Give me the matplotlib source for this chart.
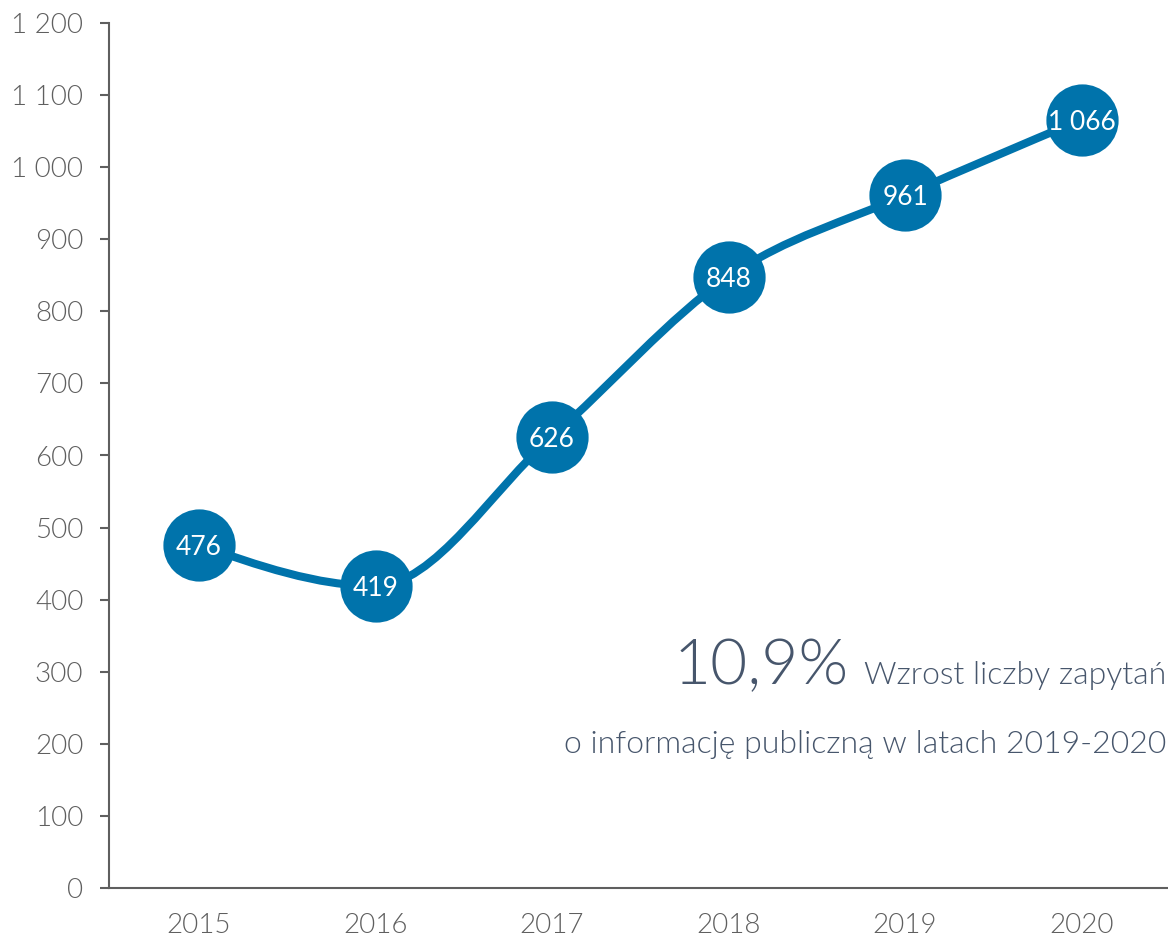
import numpy as np
import matplotlib
matplotlib.use('Agg')
import matplotlib.pyplot as plt
from matplotlib.path import Path
from matplotlib.patches import PathPatch

# Data
years = ['2015', '2016', '2017', '2018', '2019', '2020']
values = [476, 419, 626, 848, 961, 1066]
value_labels = ['476', '419', '626', '848', '961', '1 066']
y_ticks = [0, 100, 200, 300, 400, 500, 600, 700, 800, 900, 1000, 1100, 1200]
y_tick_labels = ['0', '100', '200', '300', '400', '500', '600', '700', '800', '900',
                 '1 000', '1 100', '1 200']
big_number = '10,9%'
note_line1 = 'Wzrost liczby zapytań'
note_line2 = 'o informację publiczną w latach 2019-2020'

blue = '#0073ab'
grey = '#5f5f5f'
slate = '#47566c'

plt.rcParams['font.family'] = ['Lato', 'DejaVu Sans']

fig = plt.figure(figsize=(11.68, 9.38), dpi=100)
ax = fig.add_axes([109/1168, 50/938, 1 - 109/1168, 865/938])

x = np.arange(len(values), dtype=float)
y = np.array(values, dtype=float)

# Smooth line through the points (monotone cubic, drawn as Bezier segments)
h = np.diff(x)
s = np.diff(y) / h
t = np.zeros(len(y))
for i in range(1, len(y) - 1):
    p = (s[i-1] * h[i] + s[i] * h[i-1]) / (h[i-1] + h[i])
    t[i] = (np.sign(s[i-1]) + np.sign(s[i])) * min(abs(s[i-1]), abs(s[i]), 0.5 * abs(p))
t[0] = (3 * s[0] - t[1]) / 2
t[-1] = (3 * s[-1] - t[-2]) / 2
verts = [(x[0], y[0])]
codes = [Path.MOVETO]
for i in range(len(y) - 1):
    dx = h[i] / 3
    verts += [(x[i] + dx, y[i] + dx * t[i]), (x[i+1] - dx, y[i+1] - dx * t[i+1]), (x[i+1], y[i+1])]
    codes += [Path.CURVE4] * 3
ax.add_patch(PathPatch(Path(verts, codes), facecolor='none', edgecolor=blue, lw=5.8,
                       capstyle='round', zorder=2))

ax.plot(x, y, 'o', color=blue, markersize=52, markeredgewidth=0, zorder=3, clip_on=False)
for xi, yi, lab in zip(x, y, value_labels):
    ax.text(xi, yi, lab, color='white', fontsize=19, ha='center', va='center_baseline', zorder=4)

ax.set_xlim(-0.51, 5.49)
ax.set_ylim(0, 1200)
ax.set_xticks(x)
ax.set_xticklabels(years)
ax.set_yticks(y_ticks)
ax.set_yticklabels(y_tick_labels)

for sp in ['top', 'right']:
    ax.spines[sp].set_visible(False)
for sp in ['left', 'bottom']:
    ax.spines[sp].set_color(grey)
    ax.spines[sp].set_linewidth(1.5)

ax.tick_params(axis='y', length=6.5, width=1.5, color=grey, pad=12, labelsize=20,
               labelcolor=grey)
ax.tick_params(axis='x', length=0, pad=18, labelsize=20, labelcolor=grey)
for lab in ax.get_xticklabels() + ax.get_yticklabels():
    lab.set_fontweight(300)

# Annotation
trans = ax.get_yaxis_transform()
wz = ax.text(0.998, 283, note_line1, transform=trans, ha='right', va='baseline',
             fontsize=23, color=slate, fontweight=300)
ax.annotate(big_number, xy=(0, 283), xycoords=(wz, 'data'), xytext=(-15, 0),
            textcoords='offset pixels', ha='right', va='baseline', fontsize=46,
            color=slate, fontweight=300)
ax.text(0.998, 187, note_line2, transform=trans, ha='right', va='baseline',
        fontsize=23, color=slate, fontweight=300)

plt.savefig('out.png', dpi=100)
